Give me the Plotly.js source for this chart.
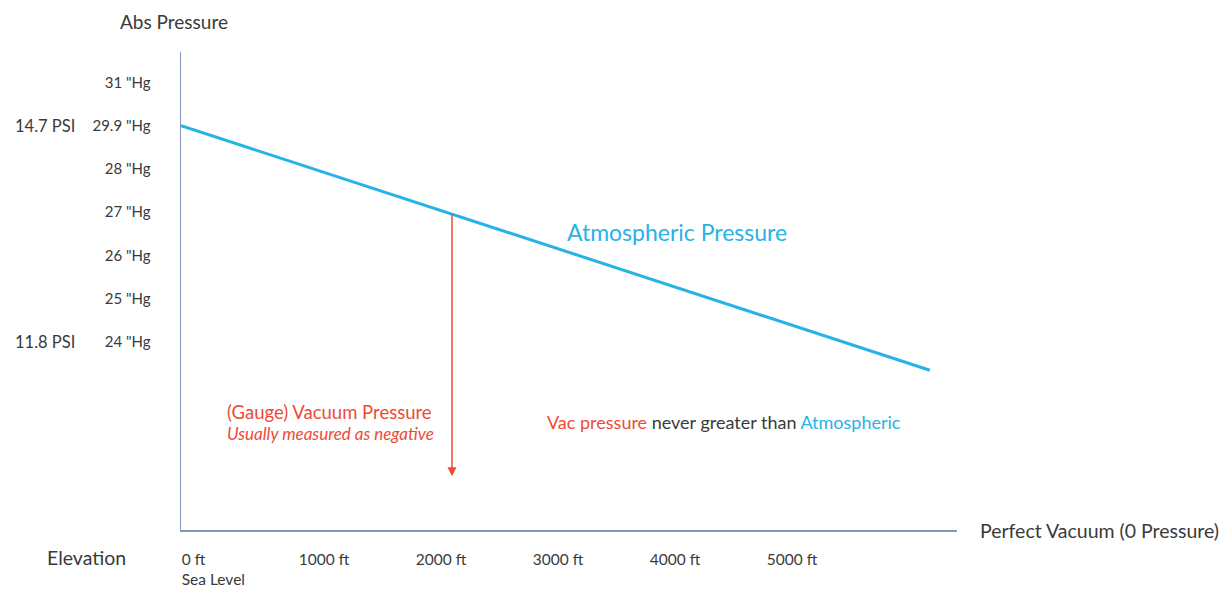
<!DOCTYPE html>
<html>
<head>
<meta charset="utf-8">
<script src="https://cdn.plot.ly/plotly-3.0.1.min.js"></script>
<style>html,body{margin:0;padding:0;background:#fff;}#chart{width:1224px;height:590px;}</style>
</head>
<body>
<div id="chart"></div>
<script>
// Schematic chart: elevation (ft) vs absolute pressure (label slots)
var elevationTicks = [0, 1000, 2000, 3000, 4000, 5000];
var elevationLabels = ['0 ft<br>Sea Level', '1000 ft', '2000 ft', '3000 ft', '4000 ft', '5000 ft'];
var pressureTicks = [24, 25, 26, 27, 28, 29, 30];
var pressureLabels = ['24 "Hg', '25 "Hg', '26 "Hg', '27 "Hg', '28 "Hg', '29.9 "Hg', '31 "Hg'];
var psiTicks = [29, 24];
var psiLabels = ['14.7 PSI', '11.8 PSI'];

// Atmospheric pressure line
var lineElevation = [0, 6400];
var linePressure = [29, 23.35];

// Gauge vacuum arrow
var arrowElevation = 2316;
var arrowTop = 26.98;
var arrowBottom = 20.9;

var blue = '#27b3e6';
var red = '#ee4b36';
var axisCol = '#8496bd';
var textCol = '#3a3a3a';
var fam = 'Lato, "Open Sans", sans-serif';

var traces = [{
  x: lineElevation, y: linePressure, type: 'scatter', mode: 'lines',
  line: {color: blue, width: 3}, hoverinfo: 'skip', showlegend: false
}];

var annotations = [
  {xref: 'paper', yref: 'paper', x: -0.009, y: 1.063, text: 'Abs Pressure', showarrow: false,
   xanchor: 'center', yanchor: 'middle', font: {family: fam, size: 19, color: textCol}},
  {xref: 'paper', yref: 'paper', x: 1.027, y: 0, text: 'Perfect Vacuum (0 Pressure)', showarrow: false,
   xanchor: 'left', yanchor: 'middle', font: {family: fam, size: 19.5, color: textCol}},
  {xref: 'paper', yref: 'paper', x: -0.1224, y: -0.058, text: 'Elevation', showarrow: false,
   xanchor: 'center', yanchor: 'middle', font: {family: fam, size: 19.5, color: textCol}},
  {xref: 'x', yref: 'y', x: 4240, y: 26.55, text: 'Atmospheric Pressure', showarrow: false,
   xanchor: 'center', yanchor: 'middle', font: {family: fam, size: 23, color: blue}},
  {xref: 'x', yref: 'y', x: arrowElevation, y: arrowBottom, ax: arrowElevation, ay: arrowTop,
   axref: 'x', ayref: 'y', text: '', showarrow: true, arrowhead: 2, arrowsize: 1.2,
   arrowwidth: 1.5, arrowcolor: red},
  {xref: 'paper', yref: 'paper', x: 0.0567, y: 0.247, text: '(Gauge) Vacuum Pressure', showarrow: false,
   xanchor: 'left', yanchor: 'middle', font: {family: fam, size: 18.5, color: red}},
  {xref: 'paper', yref: 'paper', x: 0.0567, y: 0.202, text: '<i>Usually measured as negative</i>', showarrow: false,
   xanchor: 'left', yanchor: 'middle', font: {family: fam, size: 17, color: red}},
  {xref: 'paper', yref: 'paper', x: 0.469, y: 0.226,
   text: '<span style="color:' + red + '">Vac pressure</span> never greater than <span style="color:' + blue + '">Atmospheric</span>',
   showarrow: false, xanchor: 'left', yanchor: 'middle', font: {family: fam, size: 18, color: textCol}}
];
for (var i = 0; i < psiTicks.length; i++) {
  annotations.push({xref: 'paper', yref: 'y', x: -0.134, y: psiTicks[i], text: psiLabels[i], showarrow: false,
    xanchor: 'right', yanchor: 'middle', font: {family: fam, size: 16.5, color: textCol}});
}

var layout = {
  width: 1224, height: 590,
  margin: {l: 181, r: 267, t: 52, b: 60, pad: 0},
  paper_bgcolor: '#ffffff', plot_bgcolor: '#ffffff',
  showlegend: false,
  font: {family: fam, color: textCol},
  xaxis: {
    range: [0, 6632], showgrid: false, zeroline: false,
    showline: true, linecolor: axisCol, linewidth: 1.5,
    tickmode: 'array', tickvals: elevationTicks, ticktext: elevationLabels,
    ticks: '', ticklabelposition: 'outside right', ticklabelstandoff: 15,
    tickfont: {family: fam, size: 15.5, color: textCol}
  },
  yaxis: {
    range: [19.66, 30.7], showgrid: false, zeroline: false,
    showline: true, linecolor: axisCol, linewidth: 1.5,
    tickmode: 'array', tickvals: pressureTicks, ticktext: pressureLabels,
    ticks: '', ticklabelstandoff: 26,
    tickfont: {family: fam, size: 15, color: textCol}
  },
  annotations: annotations
};

Plotly.newPlot('chart', traces, layout, {displayModeBar: false, staticPlot: true});
</script>
</body>
</html>
